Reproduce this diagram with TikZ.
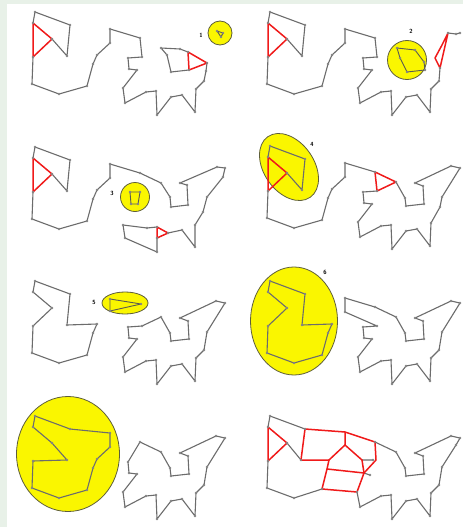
\documentclass[tikz,border=0pt]{standalone}
\usetikzlibrary{shapes.geometric}
\definecolor{linec}{HTML}{6C6C6C}
\definecolor{dotc}{HTML}{858585}
\definecolor{redc}{HTML}{F01A1A}
\definecolor{yelc}{HTML}{FAF600}
\definecolor{outc}{HTML}{5E5E3A}
\definecolor{innc}{HTML}{5A5A50}
\definecolor{bgc}{HTML}{E8F1E8}
\tikzset{
 gl/.style={draw=linec, line width=1.1pt, line join=round, line cap=round},
 rl/.style={draw=redc, line width=1.5pt, line join=round, line cap=round},
 il/.style={draw=innc, line width=0.9pt, line join=round},
 yel/.style={fill=yelc, draw=outc, line width=0.8pt, inner sep=0pt, outer sep=0pt},
 lab/.style={font=\sffamily\bfseries\fontsize{6}{6}\selectfont, text=black, inner sep=0pt},
}
\newcommand\pdots[1]{\foreach \p in {#1}{\fill[dotc] (\p) circle[radius=1.4pt];}}
\newcommand\defpts{%
 \coordinate (A) at (35,12); \coordinate (B) at (70,25); \coordinate (C) at (67,56);
 \coordinate (D) at (52,39); \coordinate (E) at (33,23); \coordinate (F) at (33,57);
 \coordinate (G) at (32,84); \coordinate (H) at (59,94); \coordinate (I) at (87,86);
 \coordinate (J) at (93,64); \coordinate (K) at (97,55); \coordinate (L) at (110,43);
 \coordinate (M) at (110,29); \coordinate (N) at (140,38); \coordinate (O) at (142,57);
 \coordinate (P) at (128,58); \coordinate (Q) at (129,69); \coordinate (R) at (137,70);
 \coordinate (S) at (123,88); \coordinate (T) at (125,103); \coordinate (U) at (146,92);
 \coordinate (V) at (156,91); \coordinate (W) at (157,115); \coordinate (X) at (171,97);
 \coordinate (Y) at (182,95); \coordinate (Z) at (195,112); \coordinate (AA) at (196,89);
 \coordinate (AB) at (204,81); \coordinate (e1) at (161,48); \coordinate (e2) at (170,64);
 \coordinate (e3) at (171,72); \coordinate (e4) at (189,70); \coordinate (e5) at (188,52);
 \coordinate (e6) at (180,49); \coordinate (e7) at (216,32); \coordinate (e8) at (225,34);
 \coordinate (e9) at (221,41); \coordinate (e10) at (207,63);
}
\begin{document}
\begin{tikzpicture}[x=1pt,y=-1pt]
\path[use as bounding box] (0,0) rectangle (463,527);
\fill[white] (0,0) rectangle (463,527);
\fill[bgc] (0,0) rectangle (7,527);
\fill[bgc] (0,0) rectangle (463,4);

% ---------- Panel 1
\begin{scope}[shift={(0,0)}]
\defpts
\coordinate (AC) at (206,71); \coordinate (AH) at (167,55);
\draw[gl] (G)--(F) (E)--(A)--(B)--(C)--(D);
\draw[gl] (G)--(H)--(I)--(J)--(K)--(L)--(M)--(N)--(O)--(P)--(Q)--(R)--(S)--(T)--(U)--(V)--(W)--(X)--(Y)--(Z)--(AA)--(AB)--(AC)--(e10);
\draw[gl] (e5)--(e6)--(e1)--(AH)--(e3)--(e4);
\draw[rl] (E)--(D)--(F)--cycle;
\draw[rl] (e5)--(e10)--(e4)--cycle;
\pdots{A,B,C,D,E,F,G,H,I,J,K,L,M,N,O,P,Q,R,S,T,U,V,W,X,Y,Z,AA,AB,AC,e10,e5,e6,e1,AH,e3,e4}
\node[yel,circle,minimum size=24pt] (c1) at (220,33) {};
\coordinate (t1) at (217,31); \coordinate (t2) at (223,33); \coordinate (t3) at (221,37);
\draw[il] (t1)--(t2)--(t3)--cycle;
\pdots{t1,t2,t3}
\node[lab] (l1) at (201,35) {1};
\end{scope}

% ---------- Panel 2
\begin{scope}[shift={(235,0)}]
\defpts
\coordinate (rb) at (205,68); \coordinate (rt) at (213,33); \coordinate (r1) at (207,45); \coordinate (r2) at (200,58);
\coordinate (f1) at (221,34); \coordinate (f2) at (225,33);
\node[yel,circle,minimum size=39pt] (c2) at (172,60) {};
\coordinate (q1) at (162,48); \coordinate (q2) at (180,50); \coordinate (q3) at (189,62);
\coordinate (q4) at (190,70); \coordinate (q5) at (172,72); \coordinate (q6) at (165,58);
\draw[il] (q1)--(q2)--(q3)--(q4)--(q5)--(q6)--cycle;
\draw[gl] (G)--(F) (E)--(A)--(B)--(C)--(D);
\draw[gl] (G)--(H)--(I)--(J)--(K)--(L)--(M)--(N)--(O)--(P)--(Q)--(R)--(S)--(T)--(U)--(V)--(W)--(X)--(Y)--(Z)--(AA)--(AB)--(rb);
\draw[gl] (rt)--(f1)--(f2);
\draw[rl] (E)--(D)--(F)--cycle;
\draw[rl] (rb)--(rt)--(r1)--(r2)--cycle;
\pdots{A,B,C,D,E,F,G,H,I,J,K,L,M,N,O,P,Q,R,S,T,U,V,W,X,Y,Z,AA,AB,rb,rt,f1,f2,q1,q2,q3,q4,q5,q6}
\node[lab] (l2) at (176,31) {2};
\end{scope}

% ---------- Panel 3
\begin{scope}[shift={(0,135)}]
\defpts
\coordinate (e2) at (170,62); \coordinate (e4) at (188,70); \coordinate (e5) at (187,50);
\coordinate (e6) at (180,48); \coordinate (e7) at (217,32); \coordinate (e8) at (225,33);
\coordinate (e9) at (223,42); \coordinate (e10) at (207,62); \coordinate (e11) at (203,77);
\coordinate (AA) at (195,90); \coordinate (rR) at (168,98); \coordinate (rT) at (157,92);
\coordinate (rB) at (157,103); \coordinate (U) at (147,93); \coordinate (S) at (123,90);
\coordinate (W) at (157,117);
\node[yel,circle,minimum size=29pt] (c3) at (135,62) {};
\coordinate (q1) at (130,57); \coordinate (q2) at (140,57); \coordinate (q3) at (138,69); \coordinate (q4) at (131,69);
\draw[il] (q1)--(q2)--(q3)--(q4)--cycle;
\draw[gl] (G)--(F) (E)--(A)--(B)--(C)--(D);
\draw[gl] (G)--(H)--(I)--(J)--(K)--(L)--(M)--(N)--(e1)--(e2)--(e3)--(e4)--(e5)--(e6)--(e7)--(e8)--(e9)--(e10)--(e11)--(AA)--(Z)--(Y)--(rR);
\draw[gl] (rT)--(U)--(S)--(T)--(W)--(rB);
\draw[rl] (E)--(D)--(F)--cycle;
\draw[rl] (rR)--(rT)--(rB)--cycle;
\pdots{A,B,C,D,E,F,G,H,I,J,K,L,M,N,e1,e2,e3,e4,e5,e6,e7,e8,e9,e10,e11,AA,Z,Y,rR,rT,rB,U,S,T,W,q1,q2,q3,q4}
\node[lab] (l3) at (112,58) {3};
\end{scope}

% ---------- Panel 4
\begin{scope}[shift={(235,134)}]
\defpts
\coordinate (e11) at (205,73);
\node[yel,ellipse,minimum width=74pt,minimum height=50pt,rotate=-55] (c4) at (54,33) {};
\draw[gl] (E)--(A)--(B)--(C)--(D);
\draw[gl] (F)--(G)--(H)--(I)--(J)--(K)--(L)--(M)--(N);
\draw[gl] (O)--(P)--(Q)--(R)--(S)--(T)--(U)--(V)--(W)--(X)--(Y)--(Z)--(AA)--(e11)--(e10)--(e8)--(e7)--(e6)--(e5)--(e4)--(e3)--(e2)--(e1);
\draw[rl] (E)--(D)--(F)--cycle;
\draw[rl] (N)--(e1)--(O)--cycle;
\pdots{A,B,C,D,E,F,G,H,I,J,K,L,M,N,O,P,Q,R,S,T,U,V,W,X,Y,Z,AA,e11,e10,e8,e7,e6,e5,e4,e3,e2,e1}
\node[lab] (l4) at (77,10) {4};
\end{scope}

% ---------- Panel 5
\begin{scope}[shift={(0,269)}]
\defpts
\node[yel,ellipse,minimum width=46pt,minimum height=22pt] (c5) at (125,34) {};
\coordinate (q1) at (110,30); \coordinate (q2) at (110,42); \coordinate (q3) at (141,35);
\draw[il] (q1)--(q2)--(q3)--cycle;
\draw[gl] (A)--(B)--(C)--(K)--(J)--(I)--(H)--(G)--(F)--(D)--(E)--cycle;
\draw[gl] (O)--(e1)--(e2)--(e3)--(e4)--(e5)--(e6)--(e7)--(e8)--(e10)--(AB)--(AA)--(Z)--(Y)--(X)--(W)--(V)--(U)--(T)--(S)--(R)--(Q)--(P)--cycle;
\pdots{A,B,C,D,E,F,G,H,I,J,K,O,P,Q,R,S,T,U,V,W,X,Y,Z,AA,AB,e1,e2,e3,e4,e5,e6,e7,e8,e10,q1,q2,q3}
\node[lab] (l5) at (94,33) {5};
\end{scope}

% ---------- Panel 6
\begin{scope}[shift={(235,269)}]
\defpts
\node[yel,ellipse,minimum width=87pt,minimum height=108pt] (c6) at (59,52) {};
\draw[gl] (A)--(B)--(C)--(K)--(J)--(I)--(H)--(G)--(F)--(D)--(E)--cycle;
\draw[gl] (L)--(M)--(N)--(e1)--(e2)--(e3)--(e4)--(e5)--(e6)--(e7)--(e8)--(e10)--(AB)--(AA)--(Z)--(Y)--(X)--(W)--(V)--(U)--(T)--(S)--(R)--(Q)--(P)--(O)--cycle;
\pdots{A,B,C,D,E,F,G,H,I,J,K,L,M,N,O,P,Q,R,S,T,U,V,W,X,Y,Z,AA,AB,e1,e2,e3,e4,e5,e6,e7,e8,e10}
\node[lab] (l6) at (90,3) {6};
\end{scope}

% ---------- Panel 7
\begin{scope}[shift={(0,404)}]
\defpts
\node[yel,ellipse,minimum width=103pt,minimum height=115pt] (c7) at (68,50) {};
\draw[gl] (A)--(B)--(M)--(L)--(K)--(J)--(I)--(H)--(G)--(F)--(C)--(D)--(E)--cycle;
\draw[gl] (N)--(e1)--(e2)--(e3)--(e4)--(e5)--(e6)--(e7)--(e8)--(e10)--(AB)--(AA)--(Z)--(Y)--(X)--(W)--(V)--(U)--(T)--(S)--(R)--(Q)--(P)--cycle;
\pdots{A,B,C,D,E,F,G,H,I,J,K,L,M,N,P,Q,R,S,T,U,V,W,X,Y,Z,AA,AB,e1,e2,e3,e4,e5,e6,e7,e8,e10}
\end{scope}

% ---------- Panel 8
\begin{scope}[shift={(235,404)}]
\defpts
\coordinate (C) at (66,56); \coordinate (M) at (110,28); \coordinate (L) at (110,41);
\coordinate (O) at (141,56); \coordinate (S) at (122,88); \coordinate (P) at (127,56);
\coordinate (Q) at (129,69); \coordinate (K) at (94,56); \coordinate (J) at (92,65);
\coordinate (I) at (87,85); \coordinate (pp) at (138,56); \coordinate (qq) at (135,71);
\draw[gl] (B)--(A)--(E) (D)--(C) (F)--(G)--(H)--(I);
\draw[gl] (S)--(T)--(U)--(V)--(W)--(X)--(Y)--(Z)--(AA)--(AB)--(e10)--(e9)--(e8)--(e7)--(e6)--(e5)--(e4)--(e3)--(e2)--(e1)--(N);
\draw[gl] (P)--(pp) (Q)--(qq);
\draw[rl] (E)--(D)--(F)--cycle;
\draw[rl] (C)--(B)--(M)--(N)--(O)--(Q)--(S);
\draw[rl] (M)--(L)--(K)--(C);
\draw[rl] (L)--(P)--(Q);
\draw[rl] (K)--(J)--(Q);
\draw[rl] (J)--(I)--(S);
\pdots{A,B,C,D,E,F,G,H,I,N,S,T,U,V,W,X,Y,Z,AA,AB,e10,e9,e8,e7,e6,e5,e4,e3,e2,e1,pp,qq}
\end{scope}
\end{tikzpicture}
\end{document}
